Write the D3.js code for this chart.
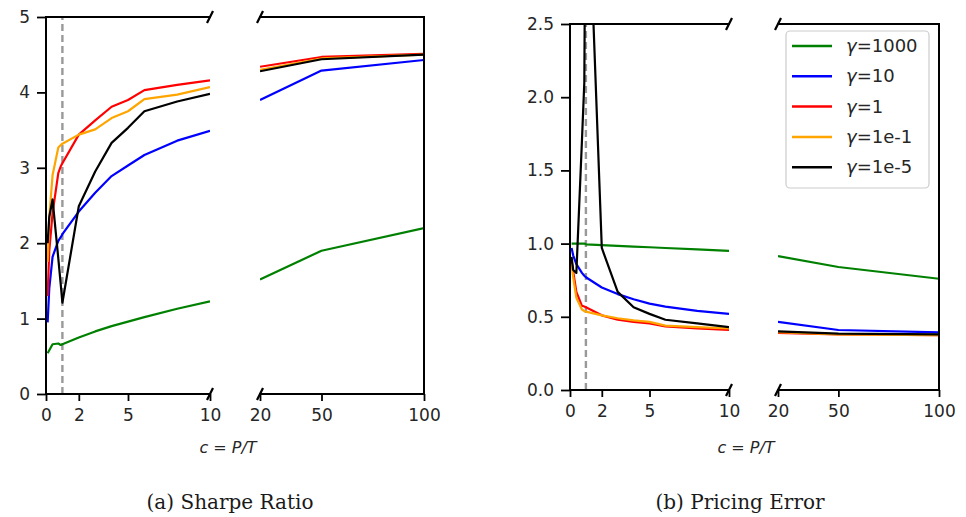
<!DOCTYPE html>
<html><head><meta charset="utf-8">
<script src="https://cdn.jsdelivr.net/npm/d3@7"></script>
<style>body{margin:0;background:#fff} svg{display:block}</style>
</head><body>
<svg id="chart" width="966" height="517"></svg>
<script>
// ---- data ----
const cValues = [0.1, 0.2, 0.4, 0.75, 0.9, 1, 2, 3, 4, 5, 6, 8, 10, 20, 50, 100];
const gammaLabels = ["1000", "10", "1", "1e-1", "1e-5"];
const seriesColors = ["green", "blue", "red", "orange", "black"];

// Sharpe ratio
const sharpeG1000 = [0.54, 0.58, 0.66, 0.67, 0.65, 0.66, 0.75, 0.83, 0.90, 0.96, 1.02, 1.13, 1.23, 1.52, 1.90, 2.20];
const sharpeG10   = [0.95, 1.40, 1.82, 2.03, 2.08, 2.12, 2.42, 2.67, 2.89, 3.03, 3.17, 3.36, 3.49, 3.90, 4.29, 4.43];
const sharpeG1    = [1.30, 1.90, 2.40, 2.93, 3.02, 3.06, 3.44, 3.63, 3.81, 3.90, 4.03, 4.10, 4.16, 4.34, 4.47, 4.51];
const sharpeG1e1  = [1.75, 2.35, 2.90, 3.27, 3.30, 3.32, 3.44, 3.51, 3.66, 3.75, 3.91, 3.97, 4.07, 4.30, 4.45, 4.50];
const sharpeG1e5  = [2.00, 2.35, 2.58, 1.80, 1.45, 1.21, 2.49, 2.95, 3.33, 3.53, 3.75, 3.88, 3.98, 4.28, 4.44, 4.50];

// Pricing error
const errorG1000 = [1.00, 1.00, 1.00, 1.00, 1.00, 0.995, 0.99, 0.985, 0.98, 0.975, 0.97, 0.96, 0.95, 0.915, 0.84, 0.76];
const errorG10   = [0.97, 0.92, 0.86, 0.80, 0.78, 0.77, 0.70, 0.655, 0.62, 0.59, 0.57, 0.54, 0.52, 0.466, 0.41, 0.394];
const errorG1    = [0.88, 0.81, 0.67, 0.575, 0.57, 0.565, 0.51, 0.48, 0.465, 0.455, 0.435, 0.42, 0.41, 0.39, 0.38, 0.375];
const errorG1e1  = [0.86, 0.77, 0.63, 0.55, 0.54, 0.535, 0.51, 0.49, 0.475, 0.465, 0.44, 0.43, 0.42, 0.395, 0.38, 0.375];
const errorG1e5  = [0.91, 0.82, 0.80, 1.70, 2.10, 3.90, 0.97, 0.67, 0.565, 0.52, 0.48, 0.455, 0.43, 0.40, 0.385, 0.38];

const xTicksLow = [0, 2, 5, 10];
const xTicksHigh = [20, 50, 100];
const sharpeYTicks = [0, 1, 2, 3, 4, 5];
const errorYTicks = [0, 0.5, 1.0, 1.5, 2.0, 2.5];
const criticalC = 1;

// ---- drawing ----
const svg = d3.select("#chart");
const FONT = "DejaVu Sans, sans-serif";
let clipId = 0;

function drawPanel(cfg) {
  const y = d3.scaleLinear().domain(cfg.yDomain).range([cfg.bottom, cfg.top]);
  cfg.subs.forEach((sub, i) => {
    const x = d3.scaleLinear().domain(sub.domain).range(sub.range);
    const g = svg.append("g");
    const id = "clip" + (clipId++);
    svg.append("defs").append("clipPath").attr("id", id)
      .append("rect").attr("x", sub.range[0]).attr("y", cfg.top)
      .attr("width", sub.range[1] - sub.range[0]).attr("height", cfg.bottom - cfg.top);
    const plot = g.append("g").attr("clip-path", `url(#${id})`);

    if (i === 0) {
      plot.append("line")
        .attr("x1", x(criticalC)).attr("x2", x(criticalC))
        .attr("y1", y(cfg.yDomain[0])).attr("y2", y(cfg.yDomain[1]))
        .attr("stroke", "#999").attr("stroke-width", 2.4).attr("stroke-dasharray", "7,4");
    }

    const line = d3.line().x(d => x(d[0])).y(d => y(d[1]));
    cfg.series.forEach((vals, k) => {
      const data = cValues.map((c, j) => [c, vals[j]])
        .filter(d => d[0] >= sub.domain[0] && d[0] <= sub.domain[1]);
      plot.append("path").datum(data).attr("d", line)
        .attr("fill", "none").attr("stroke", seriesColors[k]).attr("stroke-width", 2.2)
        .attr("stroke-linejoin", "round");
    });

    // x axis
    const xa = g.append("g").attr("transform", `translate(0,${cfg.bottom})`)
      .call(d3.axisBottom(x).tickValues(sub.ticks).tickSize(7).tickPadding(8).tickFormat(d3.format("d")));
    xa.select(".domain").remove();
    xa.selectAll(".tick line").attr("stroke", "#000").attr("stroke-width", 1.8);
    xa.selectAll(".tick text").attr("font-family", FONT).attr("font-size", 17).attr("fill", "#262626");

    if (i === 0) {
      const ya = g.append("g").attr("transform", `translate(${sub.range[0]},0)`)
        .call(d3.axisLeft(y).tickValues(cfg.yTicks).tickSize(9).tickPadding(7).tickFormat(cfg.fmt));
      ya.select(".domain").remove();
      ya.selectAll(".tick line").attr("stroke", "#000").attr("stroke-width", 1.8);
      ya.selectAll(".tick text").attr("font-family", FONT).attr("font-size", 17).attr("fill", "#262626");
    }

    // spines
    const sp = (x1, y1, x2, y2) => g.append("line").attr("x1", x1).attr("y1", y1).attr("x2", x2).attr("y2", y2)
      .attr("stroke", "#000").attr("stroke-width", 2).attr("stroke-linecap", "square");
    sp(sub.range[0], cfg.top, sub.range[1], cfg.top);
    sp(sub.range[0], cfg.bottom, sub.range[1], cfg.bottom);
    const sideX = i === 0 ? sub.range[0] : sub.range[1];
    sp(sideX, cfg.top, sideX, cfg.bottom);

    // break marks
    const bx = i === 0 ? sub.range[1] : sub.range[0];
    [cfg.top, cfg.bottom].forEach(by => {
      g.append("line").attr("x1", bx - 3).attr("y1", by + 6).attr("x2", bx + 3).attr("y2", by - 6)
        .attr("stroke", "#000").attr("stroke-width", 2.2);
    });
  });

  // x label
  const xl = svg.append("text").attr("x", cfg.xLabelX).attr("y", 453)
    .attr("text-anchor", "middle").attr("font-family", FONT).attr("font-size", 16).attr("fill", "#262626");
  xl.append("tspan").attr("font-style", "italic").text("c");
  xl.append("tspan").text(" = ");
  xl.append("tspan").attr("font-style", "italic").text("P/T");

  svg.append("text").attr("x", cfg.captionX).attr("y", 509)
    .attr("text-anchor", "middle").attr("font-family", "DejaVu Serif, serif").attr("font-size", 20)
    .attr("fill", "#1a1a1a").text(cfg.caption);
}

drawPanel({
  yDomain: [0, 5], yTicks: sharpeYTicks, fmt: d3.format("d"),
  top: 17, bottom: 394,
  subs: [{domain: [0, 10], range: [46, 210], ticks: xTicksLow},
         {domain: [20, 100], range: [260, 424], ticks: xTicksHigh}],
  series: [sharpeG1000, sharpeG10, sharpeG1, sharpeG1e1, sharpeG1e5],
  xLabelX: 228, captionX: 230, caption: "(a) Sharpe Ratio"
});

drawPanel({
  yDomain: [0, 2.5], yTicks: errorYTicks, fmt: d3.format(".1f"),
  top: 24, bottom: 390,
  subs: [{domain: [0, 10], range: [570, 729], ticks: xTicksLow},
         {domain: [20, 100], range: [778, 939], ticks: xTicksHigh}],
  series: [errorG1000, errorG10, errorG1, errorG1e1, errorG1e5],
  xLabelX: 746, captionX: 740, caption: "(b) Pricing Error"
});

// legend
const lg = svg.append("g");
lg.append("rect").attr("x", 786).attr("y", 31).attr("width", 143).attr("height", 157).attr("rx", 4)
  .attr("fill", "#fff").attr("fill-opacity", 0.85).attr("stroke", "#cccccc").attr("stroke-width", 1.2);
gammaLabels.forEach((gl, k) => {
  const yy = 46 + k * 30.3;
  lg.append("line").attr("x1", 792).attr("x2", 832).attr("y1", yy).attr("y2", yy)
    .attr("stroke", seriesColors[k]).attr("stroke-width", 2.5);
  const t = lg.append("text").attr("x", 846).attr("y", yy + 6)
    .attr("font-family", FONT).attr("font-size", 18).attr("fill", "#262626");
  t.append("tspan").attr("font-style", "italic").text("γ");
  t.append("tspan").text("=" + gl);
});
</script>
</body></html>
